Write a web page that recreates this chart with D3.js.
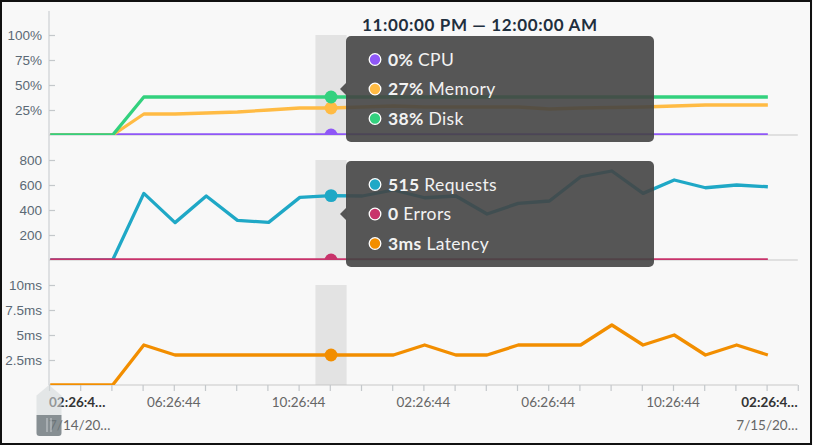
<!DOCTYPE html>
<html><head><meta charset="utf-8">
<script src="https://cdn.jsdelivr.net/npm/d3@7"></script>
<style>
html,body{margin:0;padding:0;background:#f8f8f8;}
svg{display:block;font-family:"Source Sans Pro","Lato","Noto Sans",sans-serif;}
</style></head><body>
<svg id="c" width="813" height="445"></svg>
<script>
// ---- data ----
const hourIndex = [0,1,2,3,4,5,6,7,8,9,10,11,12,13,14,15,16,17,18,19,20,21,22,23];
const cpu      = [0,0,0,0,0,0,0,0,0,0,0,0,0,0,0,0,0,0,0,0,0,0,0,0];
const memory   = [0,0,0,21,21,22,23,25,27,27,28,29,28,28,28,28,26,27,27.5,28,29,30,30,30];
const disk     = [0,0,0,38,38,38,38,38,38,38,38,38,38,38,38,38,38,38,38,38,38,38,38,38];
const requests = [0,0,0,533,299,512,317,301,501,515,512,560,498,512,368,453,472,666,712,533,640,578,600,586];
const errors   = [0,0,0,0,0,0,0,0,0,0,0,0,0,0,0,0,0,0,0,0,0,0,0,0];
const latency  = [0,0,0,4,3,3,3,3,3,3,3,3,4,3,3,4,4,4,6,4,5,3,4,3];
const yTicks1 = [25,50,75,100], yTickLabels1 = ["25%","50%","75%","100%"];
const yTicks2 = [200,400,600,800], yTickLabels2 = ["200","400","600","800"];
const yTicks3 = [2.5,5,7.5,10], yTickLabels3 = ["2.5ms","5ms","7.5ms","10ms"];
const xLabelHours = [4,8,12,16,20];
const xLabels = ["06:26:44","10:26:44","02:26:44","06:26:44","10:26:44"];
const edgeLabels = ["02:26:4…","02:26:4…"], edgeDates = ["7/14/20…","7/15/20…"];
const hoverIndex = 9;
const header = "11:00:00 PM — 12:00:00 AM";
const tip1 = [{v:"0%",l:"CPU",c:"#8f57f7"},{v:"27%",l:"Memory",c:"#ffbb44"},{v:"38%",l:"Disk",c:"#33d17e"}];
const tip2 = [{v:"515",l:"Requests",c:"#1fa8c6"},{v:"0",l:"Errors",c:"#c8336b"},{v:"3ms",l:"Latency",c:"#f28e00"}];
const pointOffset = 0.04; // points sit ~2 min after the hour tick

const svg = d3.select("#c");
const W=813,H=445;
svg.append("rect").attr("width",W).attr("height",H).attr("fill","#f8f8f8");

const x = d3.scaleLinear().domain([0,24]).range([49,797.8]);
const panels = [
  {top:35,bottom:135,max:100,ticks:yTicks1,labels:yTickLabels1,series:[[cpu,"#8f57f7"],[memory,"#ffbb44"],[disk,"#33d17e"]]},
  {top:160,bottom:260,max:800,ticks:yTicks2,labels:yTickLabels2,series:[[requests,"#1fa8c6"],[errors,"#c8336b"]]},
  {top:285,bottom:385,max:10,ticks:yTicks3,labels:yTickLabels3,series:[[latency,"#f28e00"]]}
];
const hx = x(hoverIndex+pointOffset);
const bw = x(1)-x(0);

// vertical axis line
svg.append("line").attr("x1",49).attr("x2",49).attr("y1",11).attr("y2",385).attr("stroke","#d6d9db").attr("stroke-width",1.5);

panels.forEach((p,i)=>{
  const y = d3.scaleLinear().domain([0,p.max]).range([p.bottom,p.top]);
  p.y=y;
  svg.append("rect").attr("x",hx-bw/2).attr("y",p.top).attr("width",bw).attr("height",p.bottom-p.top).attr("fill","#e3e3e3");
  const ax = svg.append("g").attr("transform","translate(49,0)")
    .call(d3.axisRight(y).tickValues(p.ticks).tickFormat((d,j)=>p.labels[j]).tickSize(6));
  ax.select(".domain").remove();
  ax.selectAll("line").attr("stroke","#c4c8cb").attr("stroke-width",1.2);
  ax.selectAll("text").attr("x",-7).attr("text-anchor","end").attr("fill","#5b6975").style("font-size","13.5px").style("font-family","inherit");
  svg.append("line").attr("x1",49).attr("x2",797.8).attr("y1",p.bottom).attr("y2",p.bottom).attr("stroke","#c8c8c8").attr("stroke-width",1.2);
  const cid="clip"+i;
  svg.append("clipPath").attr("id",cid).append("rect").attr("x",40).attr("y",p.top-20).attr("width",770).attr("height",p.bottom-p.top+20);
  const g = svg.append("g").attr("clip-path",`url(#${cid})`);
  const line = d3.line().x((d,j)=>x(hourIndex[j]+pointOffset)).y(d=>y(d));
  p.series.forEach(([vals,col])=>{
    g.append("path").datum(vals).attr("d",line).attr("fill","none").attr("stroke",col).attr("stroke-width",3.3).attr("stroke-linejoin","round");
  });
  p.series.forEach(([vals,col])=>{
    g.append("circle").attr("cx",hx).attr("cy",y(vals[hoverIndex])).attr("r",6.4).attr("fill",col);
  });
});

// x axis
const xa = svg.append("g").attr("transform","translate(0,385)")
  .call(d3.axisBottom(x).tickValues(d3.range(0,25)).tickFormat("").tickSize(6));
xa.select(".domain").remove();
xa.selectAll("line").attr("stroke","#c4c8cb").attr("stroke-width",1.2);
xLabelHours.forEach((h,i)=>{
  svg.append("text").attr("x",x(h)).attr("y",407).attr("text-anchor","middle").attr("fill","#666").style("font-size","13.5px").text(xLabels[i]);
});
svg.append("text").attr("x",x(0)).attr("y",407).attr("text-anchor","start").attr("fill","#333").attr("font-weight","bold").style("font-size","13.5px").text(edgeLabels[0]);
svg.append("text").attr("x",x(0)).attr("y",430).attr("text-anchor","start").attr("fill","#666").style("font-size","13.5px").text(edgeDates[0]);
svg.append("text").attr("x",x(24)).attr("y",407).attr("text-anchor","end").attr("fill","#333").attr("font-weight","bold").style("font-size","13.5px").text(edgeLabels[1]);
svg.append("text").attr("x",x(24)).attr("y",430).attr("text-anchor","end").attr("fill","#666").style("font-size","13.5px").text(edgeDates[1]);

// brush handle
const hg = svg.append("g");
hg.append("path").attr("d",`M${x(0)},385 L${x(0)+12.5},395.5 L${x(0)+12.5},415 L${x(0)-12.5},415 L${x(0)-12.5},395.5 Z`).attr("fill","#d6dadc").attr("opacity",0.6);
hg.append("path").attr("d",`M${x(0)-12.5},415 h25 v18 a3,3 0 0 1 -3,3 h-19 a3,3 0 0 1 -3,-3 Z`).attr("fill","#6e777d").attr("opacity",0.82);
[-2,2].forEach(dx=>hg.append("line").attr("x1",x(0)+dx).attr("x2",x(0)+dx).attr("y1",418).attr("y2",432).attr("stroke","#c9cdd0").attr("stroke-width",1));

// header
svg.append("text").attr("x",362).attr("y",31).attr("fill","#1f2f3e").attr("font-weight","bold").style("font-size","17px")
  .attr("textLength",235).attr("lengthAdjust","spacing").text(header);

// tooltips
function tooltip(top, items){
  const g = svg.append("g");
  const left=346,w=308,h=106, cy=top+h/2;
  g.append("path").attr("d",`M${left},${cy-6} L${left-6},${cy} L${left},${cy+6} Z`).attr("fill","#444").attr("opacity",0.9);
  g.append("rect").attr("x",left).attr("y",top).attr("width",w).attr("height",h).attr("rx",5).attr("fill","#444").attr("opacity",0.9);
  items.forEach((it,i)=>{
    const ry = top+23.5+i*29.5;
    g.append("circle").attr("cx",375).attr("cy",ry).attr("r",5.8).attr("fill",it.c).attr("stroke","#fff").attr("stroke-width",1.3);
    const t = g.append("text").attr("x",388).attr("y",ry+6).attr("fill","#f2f2f2").style("font-size","17.5px").style("letter-spacing","0.35px");
    t.append("tspan").attr("font-weight","bold").text(it.v);
    t.append("tspan").text(" "+it.l);
  });
}
tooltip(36,tip1);
tooltip(161,tip2);

// frame
svg.append("rect").attr("x",1).attr("y",1).attr("width",W-3).attr("height",H-2).attr("fill","none").attr("stroke","#111").attr("stroke-width",2);
</script>
</body></html>
